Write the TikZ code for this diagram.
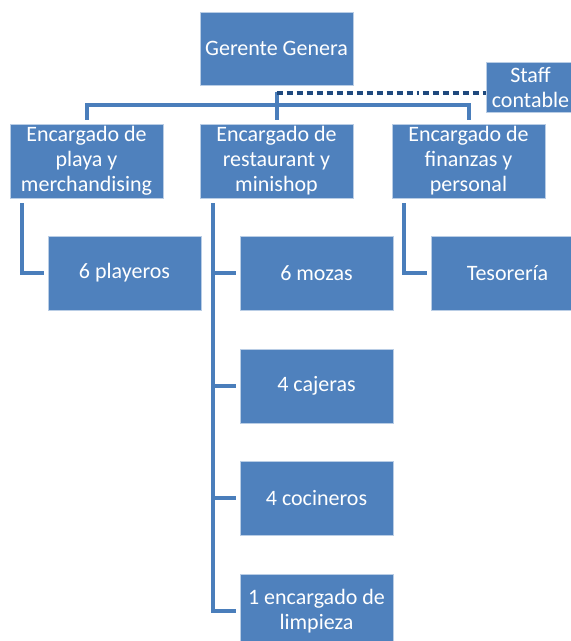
\documentclass[tikz,border=0pt]{standalone}
\usepackage{fontspec}
\setmainfont{Carlito}
\usetikzlibrary{calc}
\definecolor{boxfill}{HTML}{4F81BD}
\definecolor{boxline}{HTML}{B9CDE5}
\definecolor{connc}{HTML}{4A7EBB}
\definecolor{dashc}{HTML}{1F497D}
\tikzset{
  box/.style={draw=boxline, line width=0.7pt, fill=boxfill, text=white, inner sep=0pt,
    minimum width=153pt, minimum height=74pt, align=center,
    font=\fontsize{22}{25}\selectfont},
  conn/.style={draw=connc, line width=4pt},
  staffline/.style={draw=dashc, line width=4pt, dash pattern=on 6pt off 4pt on 6pt off 4pt on 6pt off 4pt on 6pt off 4pt on 6pt off 4pt on 6pt off 4pt on 6pt off 4pt on 6pt off 4pt on 6pt off 4pt on 6pt off 4pt on 6pt off 4pt on 6pt off 4pt on 6pt off 4pt on 6pt off 4pt on 2pt off 4pt}
}
\begin{document}
\begin{tikzpicture}[x=1pt,y=-1pt]
\useasboundingbox (0,0) rectangle (571,641);
\clip (0,0) rectangle (571,641);
% nodes
\node[box, minimum height=73pt] (gg) at (276.5,48.5) {Gerente Genera};
\node[box, minimum width=89pt, minimum height=50pt] (staff) at (530.5,87) {Staff\\contable};
\node[box] (e1) at (86.5,161) {Encargado de\\playa y\\merchandising};
\node[box] (e2) at (276.5,161) {Encargado de\\restaurant y\\minishop};
\node[box] (e3) at (468.5,161) {Encargado de\\finanzas y\\personal};
\node[box] (p) at (124.5,273) {6 playeros};
\node[box] (m) at (316.5,273) {6 mozas};
\node[box] (c) at (316.5,386) {4 cajeras};
\node[box] (co) at (316.5,498) {4 cocineros};
\node[box] (l) at (316.5,611) {1 encargado de\\limpieza};
\node[box] (t) at (507.5,273) {Tesorería};
% top connectors
\coordinate (top) at ([yshift=32pt]e2.north);
\draw[conn] ([yshift=4pt]e1.north) |- ([yshift=19pt]e2.north) -| ([yshift=4pt]e3.north);
\draw[conn] ([yshift=4pt]e2.north) -- (top);
\draw[staffline] ([yshift=31pt]e2.north) -- ([yshift=31pt]e2.north -| staff.west);
% left branch
\draw[conn] ([xshift=12pt,yshift=-5pt]e1.south west) |- ([xshift=-4pt]p.west);
% middle branch
\coordinate (mv) at ([xshift=13pt,yshift=-5pt]e2.south west);
\draw[conn] (mv) |- ([xshift=-4pt]l.west);
\draw[conn] (mv |- m.west) -- ([xshift=-4pt]m.west);
\draw[conn] (mv |- c.west) -- ([xshift=-4pt]c.west);
\draw[conn] (mv |- co.west) -- ([xshift=-4pt]co.west);
% right branch
\draw[conn] ([xshift=12pt,yshift=-5pt]e3.south west) |- ([xshift=-4pt]t.west);
\end{tikzpicture}
\end{document}
